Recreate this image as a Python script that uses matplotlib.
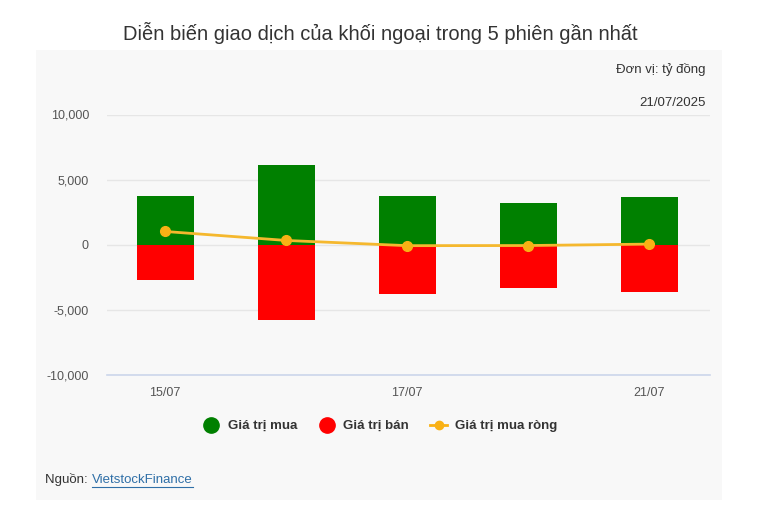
import matplotlib
matplotlib.use("Agg")
import matplotlib.pyplot as plt
from matplotlib.patches import Rectangle
from matplotlib.lines import Line2D
import numpy as np

plt.rcParams['font.family'] = ['Liberation Sans', 'DejaVu Sans']

# data (ty dong)
sessions = ["15/07", "16/07", "17/07", "18/07", "21/07"]
buy_values = [3710, 6120, 3710, 3200, 3650]
sell_values = [-2690, -5790, -3780, -3300, -3600]
net_values = [1020, 330, -70, -60, 50]
shown_ticks = ["15/07", "17/07", "21/07"]
y_ticks = [-10000, -5000, 0, 5000, 10000]

W, H = 772, 516
fig = plt.figure(figsize=(W / 100, H / 100), dpi=100)
fig.patch.set_facecolor("white")

# light gray panel behind chart
fig.patches.append(Rectangle((36 / W, 1 - 500 / H), (722 - 36) / W, (500 - 50) / H,
                             transform=fig.transFigure, facecolor="#f8f8f8",
                             edgecolor="none", zorder=-5))

fig.text(380 / W, 1 - 33 / H, "Diễn biến giao dịch của khối ngoại trong 5 phiên gần nhất",
         ha="center", va="center", fontsize=14.5, color="#333333")
fig.text(706 / W, 1 - 70 / H, "Đơn vị: tỷ đồng", ha="right", va="center",
         fontsize=9.5, color="#333333")
fig.text(706 / W, 1 - 103 / H, "21/07/2025", ha="right", va="center",
         fontsize=9.5, color="#333333")

ax = fig.add_axes([107 / W, 1 - 375 / H, (710 - 107) / W, (375 - 114.5) / H])
ax.set_facecolor("none")
ax.set_zorder(2)

x = np.arange(len(sessions))
ax.bar(x, buy_values, width=0.47, color="#008000", zorder=3)
ax.bar(x, sell_values, width=0.47, color="#ff0000", zorder=3)
ax.plot(x, net_values, color="#f5b82e", lw=2, marker="o", ms=7,
        markerfacecolor="#f9b115", markeredgecolor="#f9b115", zorder=4)

ax.set_xlim(-0.48, len(sessions) - 0.5)
ax.set_ylim(-10000, 10000)
ax.set_yticks(y_ticks)
ax.set_yticklabels([f"{v:,}" for v in y_ticks])
ax.grid(axis="y", color="#e6e6e6", lw=1, zorder=0)
ax.set_axisbelow(True)
ax.axhline(-10000, color="#ccd6eb", lw=1.2, zorder=2, clip_on=False)

ax.set_xticks([sessions.index(s) for s in shown_ticks])
ax.set_xticklabels(shown_ticks)
ax.tick_params(axis="both", length=0, labelsize=9, colors="#555555")
ax.tick_params(axis="y", pad=13)
ax.tick_params(axis="x", pad=9)
for s in ax.spines.values():
    s.set_visible(False)

handles = [
    Line2D([], [], marker="o", ls="none", ms=11, color="#008000"),
    Line2D([], [], marker="o", ls="none", ms=11, color="#ff0000"),
    Line2D([], [], marker="o", ls="-", lw=2, ms=6, color="#f9b115"),
]
labels = ["Giá trị mua", "Giá trị bán", "Giá trị mua ròng"]
leg = fig.legend(handles, labels, loc="center", bbox_to_anchor=(380 / W, 1 - 426 / H),
                 ncol=3, frameon=False, handlelength=1.3, columnspacing=1.6,
                 handletextpad=0.6, prop={"size": 9.5, "weight": "bold"})
for t in leg.get_texts():
    t.set_color("#333333")

fig.text(45 / W, 1 - 480 / H, "Nguồn: ", ha="left", va="center", fontsize=9.5, color="#333333")
fig.text(92 / W, 1 - 480 / H, "VietstockFinance", ha="left", va="center",
         fontsize=9.5, color="#2f6fa7").set_url("https://finance.vietstock.vn")
fig.add_artist(Line2D([92 / W, 193 / W], [1 - 487 / H, 1 - 487 / H], color="#2f6fa7", lw=0.8))

fig.savefig("out.png", dpi=100)
